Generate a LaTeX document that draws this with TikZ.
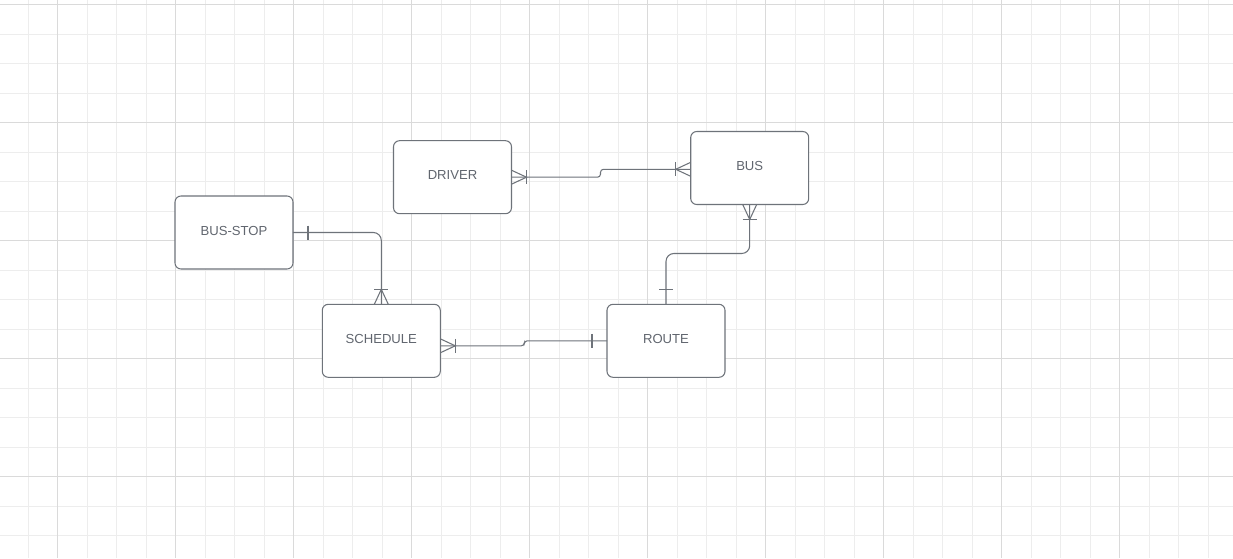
\documentclass[tikz,border=0pt]{standalone}
\usepackage{fontspec}
\setmainfont{Liberation Sans}
\usetikzlibrary{calc}

\definecolor{linegray}{HTML}{6E737A}
\definecolor{textgray}{HTML}{61666F}
\definecolor{gridminor}{HTML}{EDEDED}
\definecolor{gridmajor}{HTML}{DADADA}

\tikzset{
  entity/.style={draw=linegray, line width=0.6pt, rounded corners=3.4pt, fill=white,
    minimum width=2.36cm, minimum height=1.46cm, inner sep=0pt, outer sep=0pt,
    text=textgray, font=\fontsize{7.45}{9}\selectfont, text depth=2.3pt},
  rel/.style={draw=linegray, line width=0.6pt},
}

\begin{document}
\begin{tikzpicture}[x=0.02cm, y=-0.02cm]
		% Background and grid:
		\fill[white] (0,0) rectangle (1233,558);
		\useasboundingbox (0,0) rectangle (1233,558);
		\foreach \k in {1,...,41} \draw[gridminor, line width=0.55pt] ({-1.5+29.5*\k},0) -- ++(0,558);
		\foreach \k in {0,...,18} \draw[gridminor, line width=0.55pt] (0,{4.5+29.5*\k}) -- ++(1233,0);
		\foreach \k in {0,...,9} \draw[gridmajor, line width=0.55pt] ({57.5+118*\k},0) -- ++(0,558);
		\foreach \k in {0,...,4} \draw[gridmajor, line width=0.55pt] (0,{4.5+118*\k}) -- ++(1233,0);

		% Entities:
		\node[entity] (busstop) at (234, 232.5) {BUS-STOP};
		\node[entity] (driver) at (452.5, 177.2) {DRIVER};
		\node[entity] (bus) at (749.7, 168) {BUS};
		\node[entity] (sched) at (381.3, 340.8) {SCHEDULE};
		\node[entity] (route) at (666, 340.8) {ROUTE};
		\coordinate (busin) at ($(bus.west)+(0,1.3)$);
		\coordinate (schedout) at ($(sched.east)+(0,5)$);

		% BUS-STOP -- SCHEDULE:
		\draw[rel, rounded corners=4.5pt] (busstop.east) -| (sched.north);
		\draw[rel] ($(busstop.east)+(15,-7)$) -- ++(0,14);
		\draw[rel] ($(sched.north)+(-7,0)$) -- ($(sched.north)+(0,-15)$) -- ($(sched.north)+(7,0)$);
		\draw[rel] ($(sched.north)+(-7,-15)$) -- ++(14,0);

		% DRIVER -- BUS:
		\draw[rel, rounded corners=1.7pt] (driver.east) -- ++(89,0) |- (busin);
		\draw[rel] ($(driver.east)+(0,-7)$) -- ($(driver.east)+(15,0)$) -- ($(driver.east)+(0,7)$);
		\draw[rel] ($(driver.east)+(15,-7)$) -- ++(0,14);
		\draw[rel] ($(busin)+(0,-7)$) -- ($(busin)+(-15,0)$) -- ($(busin)+(0,7)$);
		\draw[rel] ($(busin)+(-15,-7)$) -- ++(0,14);

		% BUS -- ROUTE:
		\draw[rel, rounded corners=4.5pt] (bus.south) -- ++(0,49) -| (route.north);
		\draw[rel] ($(bus.south)+(-7,0)$) -- ($(bus.south)+(0,15)$) -- ($(bus.south)+(7,0)$);
		\draw[rel] ($(bus.south)+(-7,15)$) -- ++(14,0);
		\draw[rel] ($(route.north)+(-7,-15)$) -- ++(14,0);

		% SCHEDULE -- ROUTE:
		\draw[rel, rounded corners=1.7pt] (schedout) -- ++(84,0) |- (route.west);
		\draw[rel] ($(schedout)+(0,-7)$) -- ($(schedout)+(15,0)$) -- ($(schedout)+(0,7)$);
		\draw[rel] ($(schedout)+(15,-7)$) -- ++(0,14);
		\draw[rel] ($(route.west)+(-15,-7)$) -- ++(0,14);
	\end{tikzpicture}
\end{document}
